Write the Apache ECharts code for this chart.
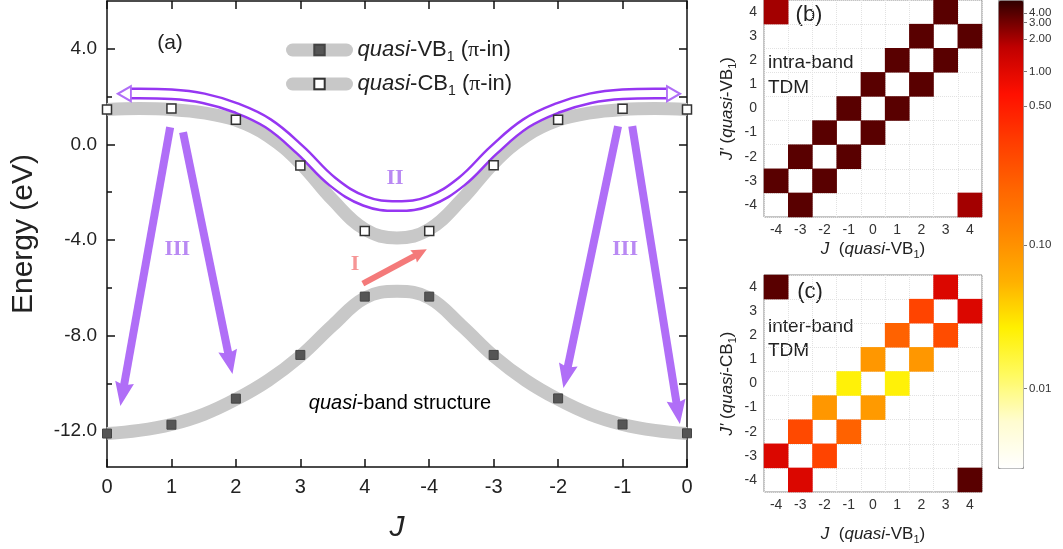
<!DOCTYPE html>
<html><head><meta charset="utf-8">
<script src="https://cdn.jsdelivr.net/npm/echarts@6/dist/echarts.min.js"></script>
<style>html,body{margin:0;padding:0;background:#fff}#c{width:1063px;height:549px}</style>
</head><body><div id="c"></div>
<script>
// ---------- data ----------
const xTickLabels = ['0','1','2','3','4','-4','-3','-2','-1','0'];
const yTickValues = [-12,-8,-4,0,4];
const yMinorValues = [-10,-6,-2,2];
const yRightTicks = [-12,-10,-8,-6,-4,-2,0,2,4];
// squares (computed points)
const cbSquares = [1.46,1.50,1.03,-0.88,-3.62,-3.62,-0.87,1.03,1.49,1.46];
const vbSquares = [-12.10,-11.73,-10.64,-8.81,-6.37,-6.37,-8.81,-10.63,-11.72,-12.09];
// thick grey guide bands, read every half step
const bandX  = [0,0.5,1,1.5,2,2.5,3,3.5,4,4.5,5,5.5,6,6.5,7,7.5,8,8.5,9];
const cbBand = [1.46,1.50,1.46,1.32,1.01,0.35,-0.79,-2.32,-3.55,-3.92,-3.55,-2.32,-0.79,0.35,1.01,1.32,1.46,1.50,1.46];
const vbBand = [-12.10,-11.97,-11.72,-11.30,-10.67,-9.88,-8.86,-7.58,-6.43,-6.15,-6.43,-7.58,-8.86,-9.88,-10.67,-11.30,-11.72,-11.97,-12.10];
// transition II (double purple line)
const iiX = [0.37,0.5,1,1.5,2,2.5,3,3.5,4,4.5,5,5.5,6,6.5,7,7.5,8,8.5,8.69];
const iiY = [2.13,2.13,2.10,1.93,1.53,0.88,-0.24,-1.56,-2.37,-2.58,-2.37,-1.56,-0.24,0.88,1.53,1.93,2.10,2.13,2.13];
const iiHeads = [[0.27,2.12,90],[8.79,2.12,-90]];
const arrowsIII = [[[0.98,0.72],[0.24,-10.45]],[[1.18,0.51],[1.91,-9.12]],[[7.93,0.76],[7.12,-9.70]],[[8.15,0.76],[8.86,-11.20]]];
const arrowI = [[3.97,-5.83],[4.86,-4.54]];
const annotations = [[4.47,-1.41,'II'],[1.09,-4.38,'III'],[8.04,-4.37,'III'],[3.85,-5.0,'I']];
const jLabels = ['-4','-3','-2','-1','0','1','2','3','4'];
const intraCells = [[-4,4,2.1],[3,4,4.0],[2,3,4.0],[4,3,4.0],[1,2,4.0],[3,2,4.0],[0,1,4.0],[2,1,4.0],[-1,0,4.0],[1,0,4.0],[-2,-1,4.0],[0,-1,4.0],[-3,-2,4.0],[-1,-2,4.0],[-4,-3,4.0],[-2,-3,4.0],[-3,-4,4.0],[4,-4,2.1]];
const interCells = [[-4,4,4.0],[3,4,1.1],[2,3,0.3],[4,3,1.1],[1,2,0.2],[3,2,0.27],[0,1,0.09],[2,1,0.09],[-1,0,0.025],[1,0,0.025],[-2,-1,0.09],[0,-1,0.085],[-3,-2,0.28],[-1,-2,0.2],[-4,-3,1.1],[-2,-3,0.3],[-3,-4,1.1],[4,-4,4.0]];
const cbTickValues = [0.01,0.1,0.5,1,2,3,4];
const cbTickLabels = ['0.01','0.10','0.50','1.00','2.00','3.00','4.00'];
const cbTickLevels = [0.170,0.4765,0.7735,0.847,0.916,0.9515,0.9716];
const cmap = ['#ffffff','#fffcd0','#fffa60','#fff000','#ffb000','#ff8800','#ff6400','#ff3c00','#ff1000','#c00000','#300000'];

// ---------- helpers ----------
const FONT = 'Liberation Sans, Arial, sans-serif';
const SERIF = 'Liberation Serif, Times New Roman, serif';
const PURPLE = '#9636f2', LPURPLE = '#b06ef7', SALMON = '#f47a7a';
const ARROW = 'path://M0,0 L10,24 L0,21 L-10,24 Z';
function levelOf(v){
  const lv = Math.log10(v), L = cbTickValues.map(Math.log10);
  let i = 0;
  if (lv >= L[L.length-1]) i = L.length-2; else if (lv > L[0]) { while (lv > L[i+1]) i++; }
  const t = (lv - L[i])/(L[i+1]-L[i]);
  return Math.max(0, Math.min(1, cbTickLevels[i] + t*(cbTickLevels[i+1]-cbTickLevels[i])));
}
const zip = (xs, ys)=> xs.map((x,i)=>[x, ys[i]]);
function cells(arr){ return arr.map(c=>[String(c[0]),String(c[1]),c[2],levelOf(c[2])]); }
const richSub = (fs)=>({
  i:{fontStyle:'italic', fontSize:fs, fontFamily:FONT, color:'#222'},
  n:{fontSize:fs, fontFamily:FONT, color:'#222'},
  s:{fontSize:Math.round(fs*0.62), fontFamily:FONT, color:'#222', padding:[Math.round(fs*0.62),0,0,0]},
  p:{fontSize:fs, fontFamily:SERIF, color:'#222'}
});
const cbLabel = (v)=>{const i=cbTickLevels.findIndex(l=>Math.abs(l-v)<1e-6); return i>=0?cbTickLabels[i]:'';};
const cbAxis = (vals)=>({type:'value', gridIndex:3, min:0, max:1, position:'right', offset:0,
  axisLine:{show:false, onZero:false}, splitLine:{show:false},
  axisTick:{show:true, length:4, customValues:vals, lineStyle:{color:'#777'}},
  axisLabel:{customValues:vals, fontSize:11.5, fontFamily:FONT, color:'#333', margin:6, hideOverlap:false, formatter:cbLabel}});

const heatXAxis = (gi)=>({type:'category', gridIndex:gi, data:jLabels, boundaryGap:true,
  axisLine:{show:false, onZero:false}, axisTick:{show:false},
  axisLabel:{fontSize:14, fontFamily:FONT, color:'#333', margin:6},
  splitLine:{show:true, lineStyle:{color:'#e2e2e2', type:'dotted'}},
  name:'{i|J}{n|  (}{i|quasi}{n|-VB}{s|1}{n|)}', nameLocation:'middle', nameGap: gi===1?21:31,
  nameTextStyle:{rich:richSub(17)}});
const heatYAxis = (gi, band)=>({type:'category', gridIndex:gi, data:jLabels, boundaryGap:true,
  axisLine:{show:false, onZero:false}, axisTick:{show:false},
  axisLabel:{fontSize:14, fontFamily:FONT, color:'#333', margin:7},
  splitLine:{show:true, lineStyle:{color:'#e2e2e2', type:'dotted'}},
  name:"{i|J'}{n| (}{i|quasi}{n|-"+band+"}{s|1}{n|)}", nameLocation:'middle', nameGap:26, nameRotate:90,
  nameTextStyle:{rich:richSub(17)}});
const AX = {color:'#111', width:1.5};

const chart = echarts.init(document.getElementById('c'), null, {renderer:'canvas'});
const option = {
  animation:false,
  backgroundColor:'#fff',
  grid:[
    {left:107, top:1, width:580, height:466},
    {left:764, top:0, width:218, height:217, show:true, borderColor:'#8a8a8a', borderWidth:1, backgroundColor:'transparent'},
    {left:764, top:275, width:218, height:217, show:true, borderColor:'#8a8a8a', borderWidth:1, backgroundColor:'transparent'},
    {left:998, top:0, width:25, height:468}
  ],
  legend:{
    data:['VB','CB'], orient:'vertical', left:281, top:34, itemWidth:54, itemHeight:13, itemGap:9,
    selectedMode:false,
    lineStyle:{width:13, cap:'round', color:'#c8c8c8', opacity:1},
    formatter:(n)=> '{i|quasi}{n|-'+n+'}{s|1}{n| (}{p|π}{n|-in)}',
    textStyle:{rich:richSub(22), padding:[0,0,0,6]}
  },
  visualMap:{type:'continuous', dimension:3, min:0, max:1, seriesIndex:[10,11], inRange:{color:cmap},
    left:998, top:0, itemWidth:25, itemHeight:468, calculable:false, text:null, padding:0,
    borderWidth:1, borderColor:'#9a9a9a', hoverLink:false, showLabel:false},
  xAxis:[
    {type:'value', gridIndex:0, min:0, max:9, interval:1, position:'bottom',
     axisLine:{onZero:false, lineStyle:AX}, axisTick:{inside:true, length:8, lineStyle:AX},
     axisLabel:{formatter:(v)=>xTickLabels[Math.round(v)], fontSize:20, fontFamily:FONT, color:'#222', margin:10},
     splitLine:{show:false},
     name:'J', nameLocation:'middle', nameGap:46, nameTextStyle:{fontSize:30, fontStyle:'italic', fontFamily:FONT, color:'#222'}},
    {type:'value', gridIndex:0, min:0, max:9, interval:1, position:'top',
     axisLine:{onZero:false, lineStyle:AX}, axisTick:{inside:true, length:8, lineStyle:AX},
     axisLabel:{show:false}, splitLine:{show:false}},
    heatXAxis(1), heatXAxis(2),
    {type:'value', gridIndex:3, min:0, max:1, show:false}
  ],
  yAxis:[
    {type:'value', gridIndex:0, min:-13.5, max:6, position:'left',
     axisLine:{show:true, onZero:false, lineStyle:AX},
     axisTick:{show:true, inside:true, length:8, customValues:yTickValues, lineStyle:AX},
     axisLabel:{customValues:yTickValues, formatter:(v)=>v.toFixed(1), fontSize:19, fontFamily:FONT, color:'#222', margin:10},
     splitLine:{show:false},
     name:'Energy (eV)', nameLocation:'middle', nameGap:68, nameRotate:90,
     nameTextStyle:{fontSize:30, fontFamily:FONT, color:'#222'}},
    {type:'value', gridIndex:0, min:-13.5, max:6, position:'left',
     axisLine:{show:false, onZero:false}, axisTick:{show:true, inside:true, length:5, customValues:yMinorValues, lineStyle:AX},
     axisLabel:{show:false}, splitLine:{show:false}},
    {type:'value', gridIndex:0, min:-13.5, max:6, position:'right',
     axisLine:{show:true, onZero:false, lineStyle:AX},
     axisTick:{show:true, inside:true, length:8, customValues:yRightTicks, lineStyle:AX},
     axisLabel:{show:false}, splitLine:{show:false}},
    heatYAxis(1,'VB'), heatYAxis(2,'CB'),
    cbAxis(cbTickLevels.filter((_,i)=>i%2===0)),
    cbAxis(cbTickLevels.filter((_,i)=>i%2===1))
  ],
  series:[
    {type:'line', xAxisIndex:0, yAxisIndex:0, data:zip(bandX,cbBand), smooth:0.4, symbol:'none',
     lineStyle:{color:'#c8c8c8', width:13}, z:2},
    {type:'line', xAxisIndex:0, yAxisIndex:0, data:zip(bandX,vbBand), smooth:0.4, symbol:'none',
     lineStyle:{color:'#c8c8c8', width:13}, z:2},
    {type:'line', xAxisIndex:0, yAxisIndex:0, data:zip(iiX,iiY), smooth:0.4, symbol:'none',
     lineStyle:{color:PURPLE, width:12}, z:3},
    {type:'line', xAxisIndex:0, yAxisIndex:0, data:zip(iiX,iiY), smooth:0.4, symbol:'none',
     lineStyle:{color:'#ffffff', width:7}, z:3},
    {name:'CB', type:'line', xAxisIndex:0, yAxisIndex:0, data:cbSquares.map((v,i)=>[i,v]),
     lineStyle:{width:0, color:'#c8c8c8'}, symbol:'rect', symbolSize:9, showAllSymbol:true,
     itemStyle:{color:'#ffffff', borderColor:'#333', borderWidth:1.5}, z:4},
    {name:'VB', type:'line', xAxisIndex:0, yAxisIndex:0, data:vbSquares.map((v,i)=>[i,v]),
     lineStyle:{width:0, color:'#c8c8c8'}, symbol:'rect', symbolSize:9, showAllSymbol:true,
     itemStyle:{color:'#555555', borderColor:'#444', borderWidth:1}, z:4},
    {type:'scatter', xAxisIndex:0, yAxisIndex:0, data:iiHeads, symbol:'triangle', symbolSize:[15,13],
     symbolRotate:(v)=>v[2], itemStyle:{color:'#ffffff', borderColor:LPURPLE, borderWidth:2, opacity:1}, z:5},
    {type:'lines', coordinateSystem:'cartesian2d', xAxisIndex:0, yAxisIndex:0,
     data:arrowsIII.map(c=>({coords:c})), symbol:['none',ARROW], symbolSize:[1,[19,24]],
     lineStyle:{color:LPURPLE, width:8, opacity:1, curveness:0}, z:5},
    {type:'lines', coordinateSystem:'cartesian2d', xAxisIndex:0, yAxisIndex:0,
     data:[{coords:arrowI}], symbol:['none',ARROW], symbolSize:[1,[14,15]],
     lineStyle:{color:SALMON, width:6, opacity:1, curveness:0}, z:5},
    {type:'scatter', xAxisIndex:0, yAxisIndex:0, symbolSize:0, z:6,
     data:annotations.map(a=>({value:a, label:{color: a[2]==='I'?SALMON:'#a86cf0'}})),
     label:{show:true, position:'inside', formatter:(p)=>p.value[2], fontSize:22, fontWeight:'bold', fontFamily:SERIF}},
    {type:'heatmap', xAxisIndex:2, yAxisIndex:3, data:cells(intraCells), emphasis:{disabled:true}},
    {type:'heatmap', xAxisIndex:3, yAxisIndex:4, data:cells(interCells), emphasis:{disabled:true}}
  ],
  graphic:[
    {type:'text', x:170, y:43, style:{text:'(a)', font:'21px '+FONT, fill:'#222', textAlign:'center', textVerticalAlign:'middle'}},
    {type:'text', x:400, y:403, style:{text:'{i|quasi}{n|-band structure}', rich:richSub(20), textAlign:'center', textVerticalAlign:'middle'}},
    {type:'text', x:809, y:15, style:{text:'(b)', font:'22px '+FONT, fill:'#222', textAlign:'center', textVerticalAlign:'middle'}},
    {type:'text', x:768, y:63, style:{text:'intra-band', font:'19px '+FONT, fill:'#222', textAlign:'left', textVerticalAlign:'middle'}},
    {type:'text', x:768, y:88, style:{text:'TDM', font:'19px '+FONT, fill:'#222', textAlign:'left', textVerticalAlign:'middle'}},
    {type:'text', x:810, y:292, style:{text:'(c)', font:'22px '+FONT, fill:'#222', textAlign:'center', textVerticalAlign:'middle'}},
    {type:'text', x:768, y:327, style:{text:'inter-band', font:'19px '+FONT, fill:'#222', textAlign:'left', textVerticalAlign:'middle'}},
    {type:'text', x:768, y:351, style:{text:'TDM', font:'19px '+FONT, fill:'#222', textAlign:'left', textVerticalAlign:'middle'}}
  ]
};
chart.setOption(option);
</script></body></html>
